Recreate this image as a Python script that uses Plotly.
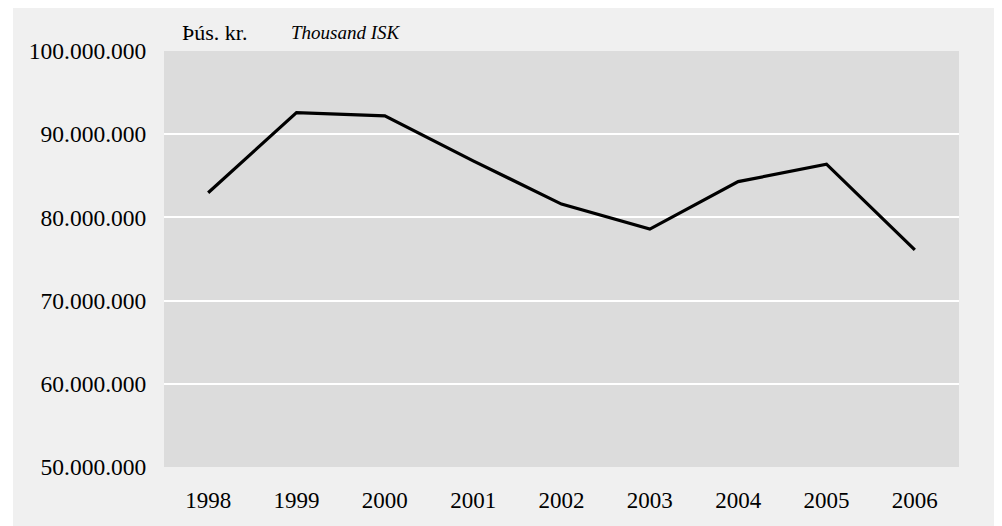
import plotly.graph_objects as go

years = ["1998", "1999", "2000", "2001", "2002", "2003", "2004", "2005", "2006"]
values = [82970000, 92600000, 92200000, 86800000, 81600000, 78600000, 84300000, 86400000, 76100000]
y_ticks = [50000000, 60000000, 70000000, 80000000, 90000000, 100000000]

FONT = "Liberation Serif, Times New Roman, serif"

# the page body adds an 8px offset; figure coordinates below are screen - 8
OFF = 8
W, H = 994, 518
L, R, T, B = 164 - OFF, 959 - OFF, 51 - OFF, 467 - OFF
pw, ph = R - L, B - T

def px(x):
    return (x - OFF - L) / pw

def py(y):
    return (B - (y - OFF)) / ph

fig = go.Figure()
fig.add_trace(go.Scatter(
    x=years, y=values, mode="lines",
    line=dict(color="#000000", width=3.2),
    hoverinfo="x+y",
))

fig.add_shape(type="rect", xref="paper", yref="paper",
              x0=px(13), x1=px(998), y0=py(526), y1=py(8),
              fillcolor="#f0f0f0", line=dict(width=0), layer="below")
fig.add_shape(type="rect", xref="paper", yref="paper",
              x0=0, x1=1, y0=0, y1=1,
              fillcolor="#dcdcdc", line=dict(width=0), layer="below")

fig.add_annotation(xref="paper", yref="paper", x=px(180), y=py(33),
                   xanchor="left", yanchor="middle", showarrow=False,
                   text="Þús. kr.", font=dict(family=FONT, size=22, color="#000"))
fig.add_annotation(xref="paper", yref="paper", x=px(289), y=py(33),
                   xanchor="left", yanchor="middle", showarrow=False,
                   text="<i>Thousand ISK</i>", font=dict(family=FONT, size=19, color="#000"))

fig.update_layout(
    width=W, height=H,
    margin=dict(l=L, r=W - R, t=T, b=H - B, pad=0),
    paper_bgcolor="#ffffff",
    plot_bgcolor="#dcdcdc",
    separators=",.",
    showlegend=False,
    font=dict(family=FONT, size=23, color="#000000"),
    xaxis=dict(
        type="category", range=[-0.5, 8.5],
        showgrid=False, zeroline=False, showline=False,
        ticks="outside", ticklen=12, tickcolor="rgba(0,0,0,0)",
        tickfont=dict(family=FONT, size=23, color="#000"),
    ),
    yaxis=dict(
        range=[50000000, 100000000], tickvals=y_ticks, tickformat=",d",
        showgrid=True, gridcolor="#ffffff", gridwidth=2,
        zeroline=False, showline=False,
        ticks="outside", ticklen=12, tickcolor="rgba(0,0,0,0)",
        tickfont=dict(family=FONT, size=23.5, color="#000"),
    ),
)

fig.write_html("out.html")
